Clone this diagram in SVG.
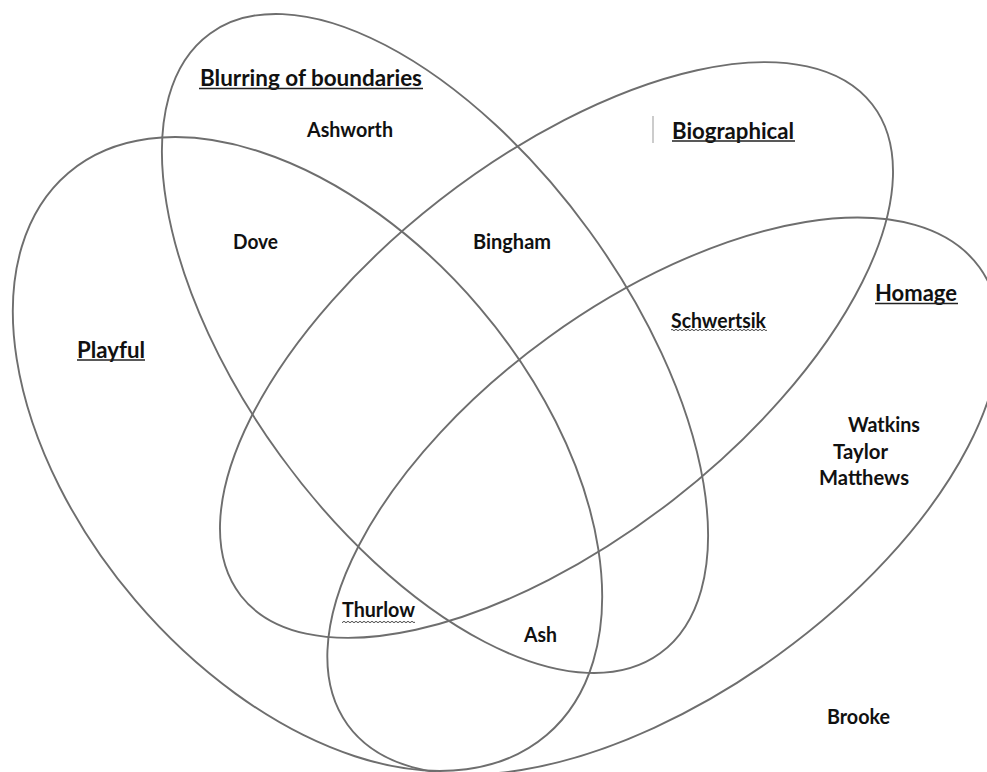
<svg xmlns="http://www.w3.org/2000/svg" width="987" height="772" viewBox="0 0 987 772">
<style>
.set{fill:none;stroke:#6e6e6e;stroke-width:1.9}
.h{font-family:Lato,"Open Sans","Liberation Sans",sans-serif;font-weight:700;font-size:23px;fill:#111}
.n{font-family:Lato,"Open Sans","Liberation Sans",sans-serif;font-weight:700;font-size:20.5px;fill:#111}
.ul{stroke:#222;stroke-width:1.6}
</style>
<defs>
<pattern id="wave" width="4" height="4" patternUnits="userSpaceOnUse">
<path d="M-1,2 Q0,0.6 1,2 T3,2 T5,2" fill="none" stroke="#333" stroke-width="0.9"/>
</pattern>
</defs>
<rect width="987" height="772" fill="#fff"/>
<g id="set-playful">
<ellipse class="set" cx="307.5" cy="454" rx="369" ry="226" transform="rotate(49.6 307.5 454)"/>
<text class="h" x="77" y="357.5" textLength="68" lengthAdjust="spacingAndGlyphs">Playful</text>
<line class="ul" x1="77" y1="360" x2="145" y2="360"/>
</g>
<g id="set-blurring">
<ellipse class="set" cx="435" cy="343.5" rx="383" ry="191" transform="rotate(54 435 343.5)"/>
<text class="h" x="200" y="86" textLength="222" lengthAdjust="spacingAndGlyphs">Blurring of boundaries</text>
<line class="ul" x1="199" y1="88.5" x2="423" y2="88.5"/>
</g>
<g id="set-biographical">
<ellipse class="set" cx="556.5" cy="350" rx="400" ry="190" transform="rotate(-37.9 556.5 350)"/>
<text class="h" x="672" y="138.5" textLength="122" lengthAdjust="spacingAndGlyphs">Biographical</text>
<line class="ul" x1="672" y1="141" x2="795" y2="141"/>
<line x1="653" y1="116" x2="653" y2="143" stroke="#999" stroke-width="1"/>
</g>
<g id="set-homage">
<ellipse class="set" cx="663.5" cy="496" rx="390" ry="196" transform="rotate(-35.9 663.5 496)"/>
<text class="h" x="875" y="301" textLength="82" lengthAdjust="spacingAndGlyphs">Homage</text>
<line class="ul" x1="875" y1="303.5" x2="958" y2="303.5"/>
</g>
<g id="connectors"></g>
<g id="name-ashworth"><text class="n" x="307" y="137" textLength="86" lengthAdjust="spacingAndGlyphs">Ashworth</text></g>
<g id="name-dove"><text class="n" x="233" y="248.5" textLength="45" lengthAdjust="spacingAndGlyphs">Dove</text></g>
<g id="name-bingham"><text class="n" x="473" y="248.5" textLength="78" lengthAdjust="spacingAndGlyphs">Bingham</text></g>
<g id="name-schwertsik"><text class="n" x="671" y="328" textLength="95" lengthAdjust="spacingAndGlyphs">Schwertsik</text>
<rect x="671" y="328" width="96" height="4" fill="url(#wave)"/></g>
<g id="name-watkins"><text class="n" x="848" y="432" textLength="72" lengthAdjust="spacingAndGlyphs">Watkins</text></g>
<g id="name-taylor"><text class="n" x="833" y="458.5" textLength="55" lengthAdjust="spacingAndGlyphs">Taylor</text></g>
<g id="name-matthews"><text class="n" x="819" y="485" textLength="90" lengthAdjust="spacingAndGlyphs">Matthews</text></g>
<g id="name-thurlow"><text class="n" x="342" y="617" textLength="73" lengthAdjust="spacingAndGlyphs">Thurlow</text>
<rect x="342" y="620" width="73" height="4" fill="url(#wave)"/></g>
<g id="name-ash"><text class="n" x="524" y="641.5" textLength="33" lengthAdjust="spacingAndGlyphs">Ash</text></g>
<g id="name-brooke"><text class="n" x="827" y="723.5" textLength="63" lengthAdjust="spacingAndGlyphs">Brooke</text></g>
</svg>
